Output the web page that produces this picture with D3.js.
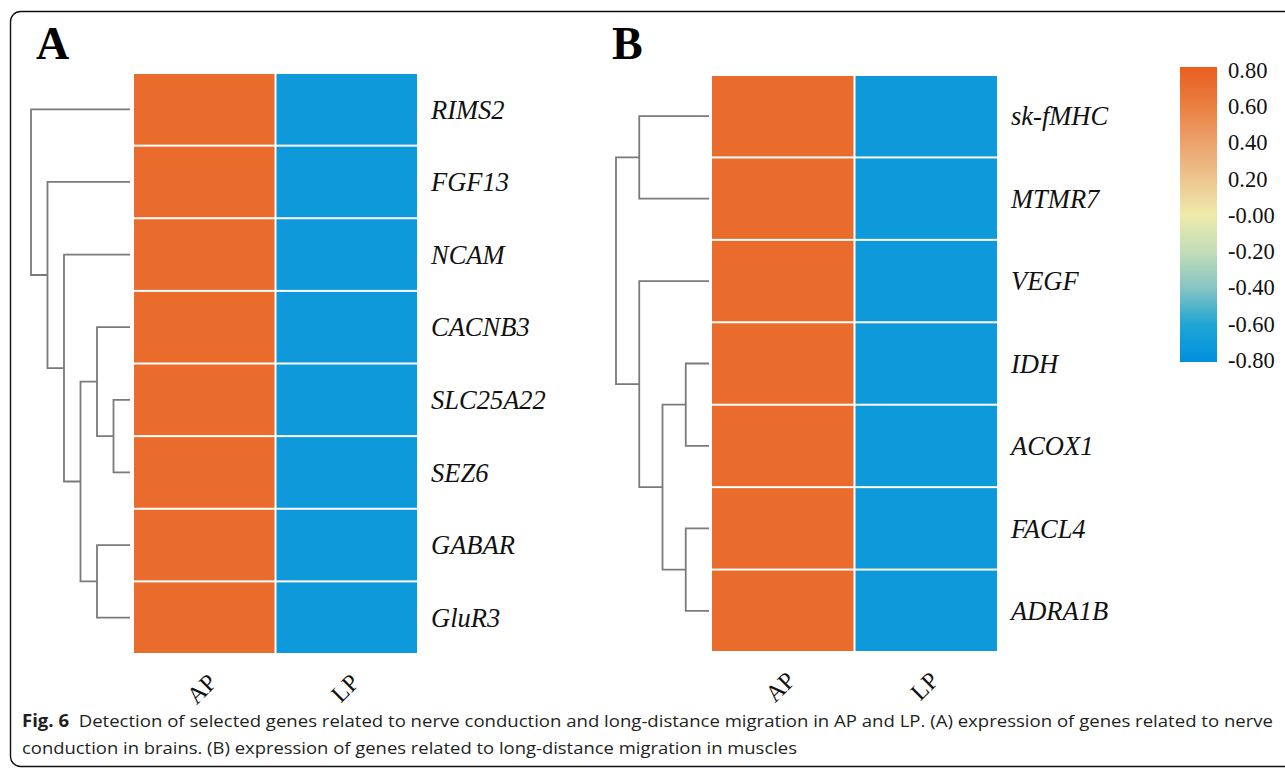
<!DOCTYPE html>
<html>
<head>
<meta charset="utf-8">
<script src="https://cdn.jsdelivr.net/npm/d3@7"></script>
<style>
  body { margin: 0; background: #fff; }
  svg { display: block; }
</style>
</head>
<body>
<script>
// data (row-scaled expression, AP vs LP)
const groups = ["AP", "LP"];

const genesA = ["RIMS2", "FGF13", "NCAM", "CACNB3", "SLC25A22", "SEZ6", "GABAR", "GluR3"];
const apA = [0.71, 0.71, 0.71, 0.71, 0.71, 0.71, 0.71, 0.71];
const lpA = [-0.71, -0.71, -0.71, -0.71, -0.71, -0.71, -0.71, -0.71];
// merges: [left, right, height]; string = leaf, number = earlier merge
const mergesA = [["SLC25A22", "SEZ6", 1], ["CACNB3", 0, 2], ["GABAR", "GluR3", 2], [1, 2, 3], ["NCAM", 3, 4], ["FGF13", 4, 5], ["RIMS2", 5, 6]];

const genesB = ["sk-fMHC", "MTMR7", "VEGF", "IDH", "ACOX1", "FACL4", "ADRA1B"];
const apB = [0.71, 0.71, 0.71, 0.71, 0.71, 0.71, 0.71];
const lpB = [-0.71, -0.71, -0.71, -0.71, -0.71, -0.71, -0.71];
const mergesB = [["sk-fMHC", "MTMR7", 3], ["IDH", "ACOX1", 1], ["FACL4", "ADRA1B", 1], [1, 2, 2], ["VEGF", 3, 3], [0, 4, 4]];

const legendTicks = [0.8, 0.6, 0.4, 0.2, 0, -0.2, -0.4, -0.6, -0.8];

const captionLine1 = "Detection of selected genes related to nerve conduction and long-distance migration in AP and LP. (A) expression of genes related to nerve";
const captionLine2 = "conduction in brains. (B) expression of genes related to long-distance migration in muscles";

const W = 1285, H = 768;
const svg = d3.select("body").append("svg")
  .attr("width", W).attr("height", H)
  .attr("viewBox", [0, 0, W, H]);

// frame
svg.append("rect")
  .attr("x", 10.5).attr("y", 11.5)
  .attr("width", 1320).attr("height", 755)
  .attr("rx", 10)
  .attr("fill", "none").attr("stroke", "#111").attr("stroke-width", 1.4);

const color = d3.scaleLinear()
  .domain([-0.8, -0.6, -0.4, -0.2, 0, 0.2, 0.4, 0.6, 0.8])
  .range(["#008fdf", "#1ea5d4", "#86c4c4", "#c2ddb8", "#eeebaa", "#edc48e", "#eca06a", "#ea7d40", "#e85e1e"]);

const serif = "'Liberation Serif', 'Times New Roman', serif";

function panel(cfg) {
  const g = svg.append("g");
  const x = d3.scaleBand().domain(groups).range(cfg.xRange);
  const y = d3.scaleBand().domain(cfg.genes).range(cfg.yRange);

  const cells = [];
  cfg.genes.forEach((gene, i) => {
    cells.push({ gene, grp: "AP", v: cfg.ap[i] });
    cells.push({ gene, grp: "LP", v: cfg.lp[i] });
  });

  g.selectAll("rect.cell").data(cells).join("rect")
    .attr("class", "cell")
    .attr("x", d => x(d.grp) + 1)
    .attr("y", d => y(d.gene) + 1)
    .attr("width", x.bandwidth() - 2)
    .attr("height", y.bandwidth() - 2)
    .attr("fill", d => color(d.v));

  // gene labels
  g.selectAll("text.gene").data(cfg.genes).join("text")
    .attr("class", "gene")
    .attr("x", cfg.xRange[1] + 13)
    .attr("y", d => y(d) + y.bandwidth() / 2)
    .attr("dy", "0.35em")
    .attr("font-family", serif)
    .attr("font-style", "italic")
    .attr("font-size", 26.5)
    .attr("fill", "#111")
    .text(d => d);

  // column labels, rotated
  g.selectAll("text.grp").data(groups).join("text")
    .attr("class", "grp")
    .attr("transform", d => `translate(${x(d) + x.bandwidth() / 2 + 2},${cfg.yRange[1] + 18}) rotate(-45)`)
    .attr("text-anchor", "end")
    .attr("dy", "0.7em")
    .attr("font-family", serif)
    .attr("font-size", 24)
    .attr("fill", "#111")
    .text(d => d);

  // dendrogram
  const hx = d3.scaleLinear().domain([0, cfg.maxH]).range(cfg.dendroX);
  const nodes = [];
  const pos = k => typeof k === "number" ? nodes[k]
    : { x: hx(0), y: y(k) + y.bandwidth() / 2 };
  const paths = [];
  cfg.merges.forEach(([a, b, h]) => {
    const pa = pos(a), pb = pos(b);
    const n = { x: hx(h), y: (pa.y + pb.y) / 2 };
    nodes.push(n);
    paths.push(`M${pa.x},${pa.y}H${n.x}V${pb.y}H${pb.x}`);
  });
  g.selectAll("path.dendro").data(paths).join("path")
    .attr("class", "dendro")
    .attr("d", d => d)
    .attr("fill", "none")
    .attr("stroke", "#7a7a7a")
    .attr("stroke-width", 1.8);

  // panel letter
  g.append("text")
    .attr("x", cfg.letterX).attr("y", 59)
    .attr("font-family", serif)
    .attr("font-weight", "bold")
    .attr("font-size", 46)
    .attr("fill", "#000")
    .text(cfg.letter);
}

panel({ letter: "A", letterX: 36, genes: genesA, ap: apA, lp: lpA, merges: mergesA, maxH: 6,
  xRange: [133, 418], yRange: [73, 654], dendroX: [130, 31] });
panel({ letter: "B", letterX: 612, genes: genesB, ap: apB, lp: lpB, merges: mergesB, maxH: 4,
  xRange: [711, 998], yRange: [75, 652], dendroX: [709, 616] });

// legend
const legY = d3.scaleLinear().domain([0.8, -0.8]).range([67, 362]);
const grad = svg.append("defs").append("linearGradient")
  .attr("id", "leg").attr("x1", 0).attr("y1", 0).attr("x2", 0).attr("y2", 1);
legendTicks.forEach(t => {
  grad.append("stop")
    .attr("offset", (legY(t) - 67) / (362 - 67))
    .attr("stop-color", color(t));
});
svg.append("rect")
  .attr("x", 1180).attr("y", legY(0.8))
  .attr("width", 37).attr("height", legY(-0.8) - legY(0.8))
  .attr("fill", "url(#leg)");

const labY = d3.scaleLinear().domain([0.8, -0.8]).range([70, 360]);
svg.selectAll("text.leg").data(legendTicks).join("text")
  .attr("class", "leg")
  .attr("x", 1228)
  .attr("y", d => labY(d))
  .attr("dy", "0.35em")
  .attr("font-family", serif)
  .attr("font-size", 22.5)
  .attr("fill", "#111")
  .text(d => d === 0 ? "-0.00" : d3.format(".2f")(d).replace("−", "-"));

// caption
const sans = "'Open Sans', 'Noto Sans', sans-serif";
const cap1 = svg.append("text")
  .attr("x", 22).attr("y", 727)
  .attr("font-family", sans).attr("font-size", 17)
  .attr("fill", "#231f20")
  .attr("textLength", 1251).attr("lengthAdjust", "spacingAndGlyphs");
cap1.append("tspan").attr("font-weight", "bold").text("Fig. 6");
cap1.append("tspan").text("\u00a0 " + captionLine1);

svg.append("text")
  .attr("x", 22).attr("y", 754)
  .attr("font-family", sans).attr("font-size", 17)
  .attr("fill", "#231f20")
  .attr("textLength", 775).attr("lengthAdjust", "spacingAndGlyphs")
  .text(captionLine2);
</script>
</body>
</html>
